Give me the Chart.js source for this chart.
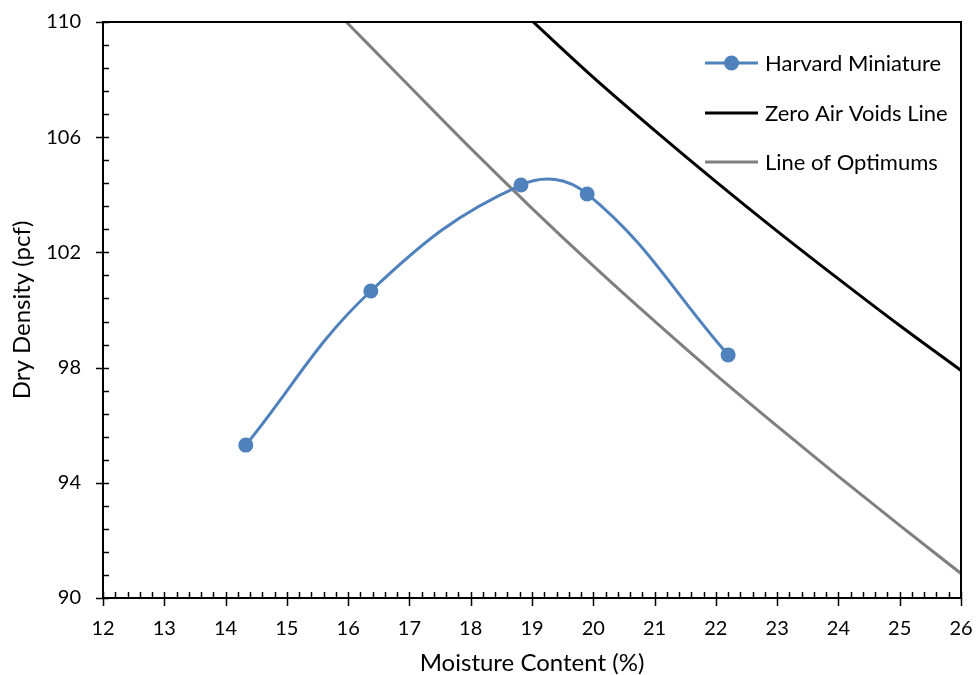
<!DOCTYPE html>
<html>
<head>
<meta charset="utf-8">
<script src="https://cdn.jsdelivr.net/npm/chart.js@4.4.0/dist/chart.umd.min.js"></script>
<style>
  html, body { margin: 0; padding: 0; background: #fff; }
  #wrap { width: 976px; height: 675px; position: relative; }
</style>
</head>
<body>
<div id="wrap"><canvas id="chart"></canvas></div>
<script>
// Harvard miniature compaction points
const moisture = [14.33, 16.37, 18.82, 19.90, 22.20];
const density = [95.31, 100.66, 104.34, 104.03, 98.44];

// zero air voids line
const zavMoisture = [19.0, 20, 21, 22, 23, 24, 25, 26];
const zavDensity = [110.04, 108.08, 106.24, 104.46, 102.74, 101.08, 99.46, 97.9];

// line of optimums
const optMoisture = [15.97, 17, 18, 19, 20, 21, 22, 23, 24, 25, 26];
const optDensity = [110.0, 107.77, 105.61, 103.53, 101.53, 99.61, 97.75, 95.97, 94.22, 92.52, 90.85];

const seriesNames = ['Harvard Miniature', 'Zero Air Voids Line', 'Line of Optimums'];
const xTitle = 'Moisture Content (%)';
const yTitle = 'Dry Density (pcf)';

const FONT = 'Lato';
const BLUE = '#4f81bd';
const GREY = '#7f7f7f';

const toPoints = (xs, ys) => xs.map((v, i) => ({ x: v, y: ys[i] }));

// border box, major/minor tick marks
const axisTicks = {
    id: 'axisTicks',
    afterDraw(chart) {
        const { ctx, chartArea: a, scales: { x, y } } = chart;
        ctx.save();
        ctx.strokeStyle = '#000';
        ctx.lineWidth = 1.5;
        ctx.beginPath();
        for (let i = 0; i <= 70; i++) {
            const px = Math.round(x.getPixelForValue(12 + i * 0.2)) + 0.5;
            const major = i % 5 === 0;
            ctx.moveTo(px, a.bottom - 6);
            ctx.lineTo(px, a.bottom + (major ? 8 : 0));
        }
        for (let i = 0; i <= 25; i++) {
            const py = Math.round(y.getPixelForValue(90 + i * 0.8)) + 0.5;
            const major = i % 5 === 0;
            ctx.moveTo(a.left + 6, py);
            ctx.lineTo(a.left - (major ? 7 : 0), py);
        }
        ctx.stroke();
        ctx.lineWidth = 2;
        ctx.strokeRect(a.left, a.top, a.right - a.left, a.bottom - a.top);
        ctx.restore();
    }
};

// legend inside the plot, top right
const insideLegend = {
    id: 'insideLegend',
    afterDraw(chart) {
        const { ctx } = chart;
        const rows = [63, 113, 162];
        ctx.save();
        ctx.font = `22px ${FONT}`;
        ctx.textBaseline = 'middle';
        chart.data.datasets.forEach((ds, i) => {
            const yy = rows[i];
            ctx.strokeStyle = ds.borderColor;
            ctx.lineWidth = 3;
            ctx.beginPath();
            ctx.moveTo(705, yy);
            ctx.lineTo(758, yy);
            ctx.stroke();
            if (ds.pointRadius > 0) {
                ctx.fillStyle = ds.borderColor;
                ctx.beginPath();
                ctx.arc(731.5, yy, 7.5, 0, Math.PI * 2);
                ctx.fill();
            }
            ctx.fillStyle = '#000';
            ctx.fillText(ds.label, 765, yy + 1);
        });
        ctx.restore();
    }
};

new Chart(document.getElementById('chart'), {
    type: 'line',
    data: {
        datasets: [
            {
                label: seriesNames[0],
                data: toPoints(moisture, density),
                borderColor: BLUE,
                backgroundColor: BLUE,
                borderWidth: 3,
                pointRadius: 7.5,
                pointBorderWidth: 0,
                tension: 0.4,
                order: 0
            },
            {
                label: seriesNames[1],
                data: toPoints(zavMoisture, zavDensity),
                borderColor: '#000',
                borderWidth: 3,
                pointRadius: 0,
                cubicInterpolationMode: 'monotone',
                order: 2
            },
            {
                label: seriesNames[2],
                data: toPoints(optMoisture, optDensity),
                borderColor: GREY,
                borderWidth: 3,
                pointRadius: 0,
                cubicInterpolationMode: 'monotone',
                order: 1
            }
        ]
    },
    options: {
        responsive: true,
        maintainAspectRatio: false,
        animation: false,
        layout: { padding: { top: 22, right: 15, left: 0, bottom: 0 } },
        plugins: {
            legend: { display: false },
            tooltip: { enabled: false }
        },
        scales: {
            x: {
                type: 'linear',
                min: 12,
                max: 26,
                grid: { display: false, drawTicks: false },
                border: { display: false },
                ticks: { stepSize: 1, padding: 19, color: '#000', font: { family: FONT, size: 20 } },
                title: { display: true, text: xTitle, color: '#000', padding: { bottom: 0 }, font: { family: FONT, size: 24, lineHeight: 1 } },
                afterFit(scale) {
                    scale.height = 77;
                    scale.paddingLeft = 0;
                    scale.paddingRight = 0;
                }
            },
            y: {
                type: 'linear',
                min: 90,
                max: 110,
                grid: { display: false, drawTicks: false },
                border: { display: false },
                ticks: { stepSize: 4, padding: 22, color: '#000', font: { family: FONT, size: 20 } },
                title: { display: true, text: yTitle, color: '#000', padding: { top: 10 }, font: { family: FONT, size: 24, lineHeight: 1 } },
                afterFit(scale) {
                    scale.width = 103;
                    scale.paddingTop = 0;
                    scale.paddingBottom = 0;
                }
            }
        }
    },
    plugins: [axisTicks, insideLegend]
});
</script>
</body>
</html>
